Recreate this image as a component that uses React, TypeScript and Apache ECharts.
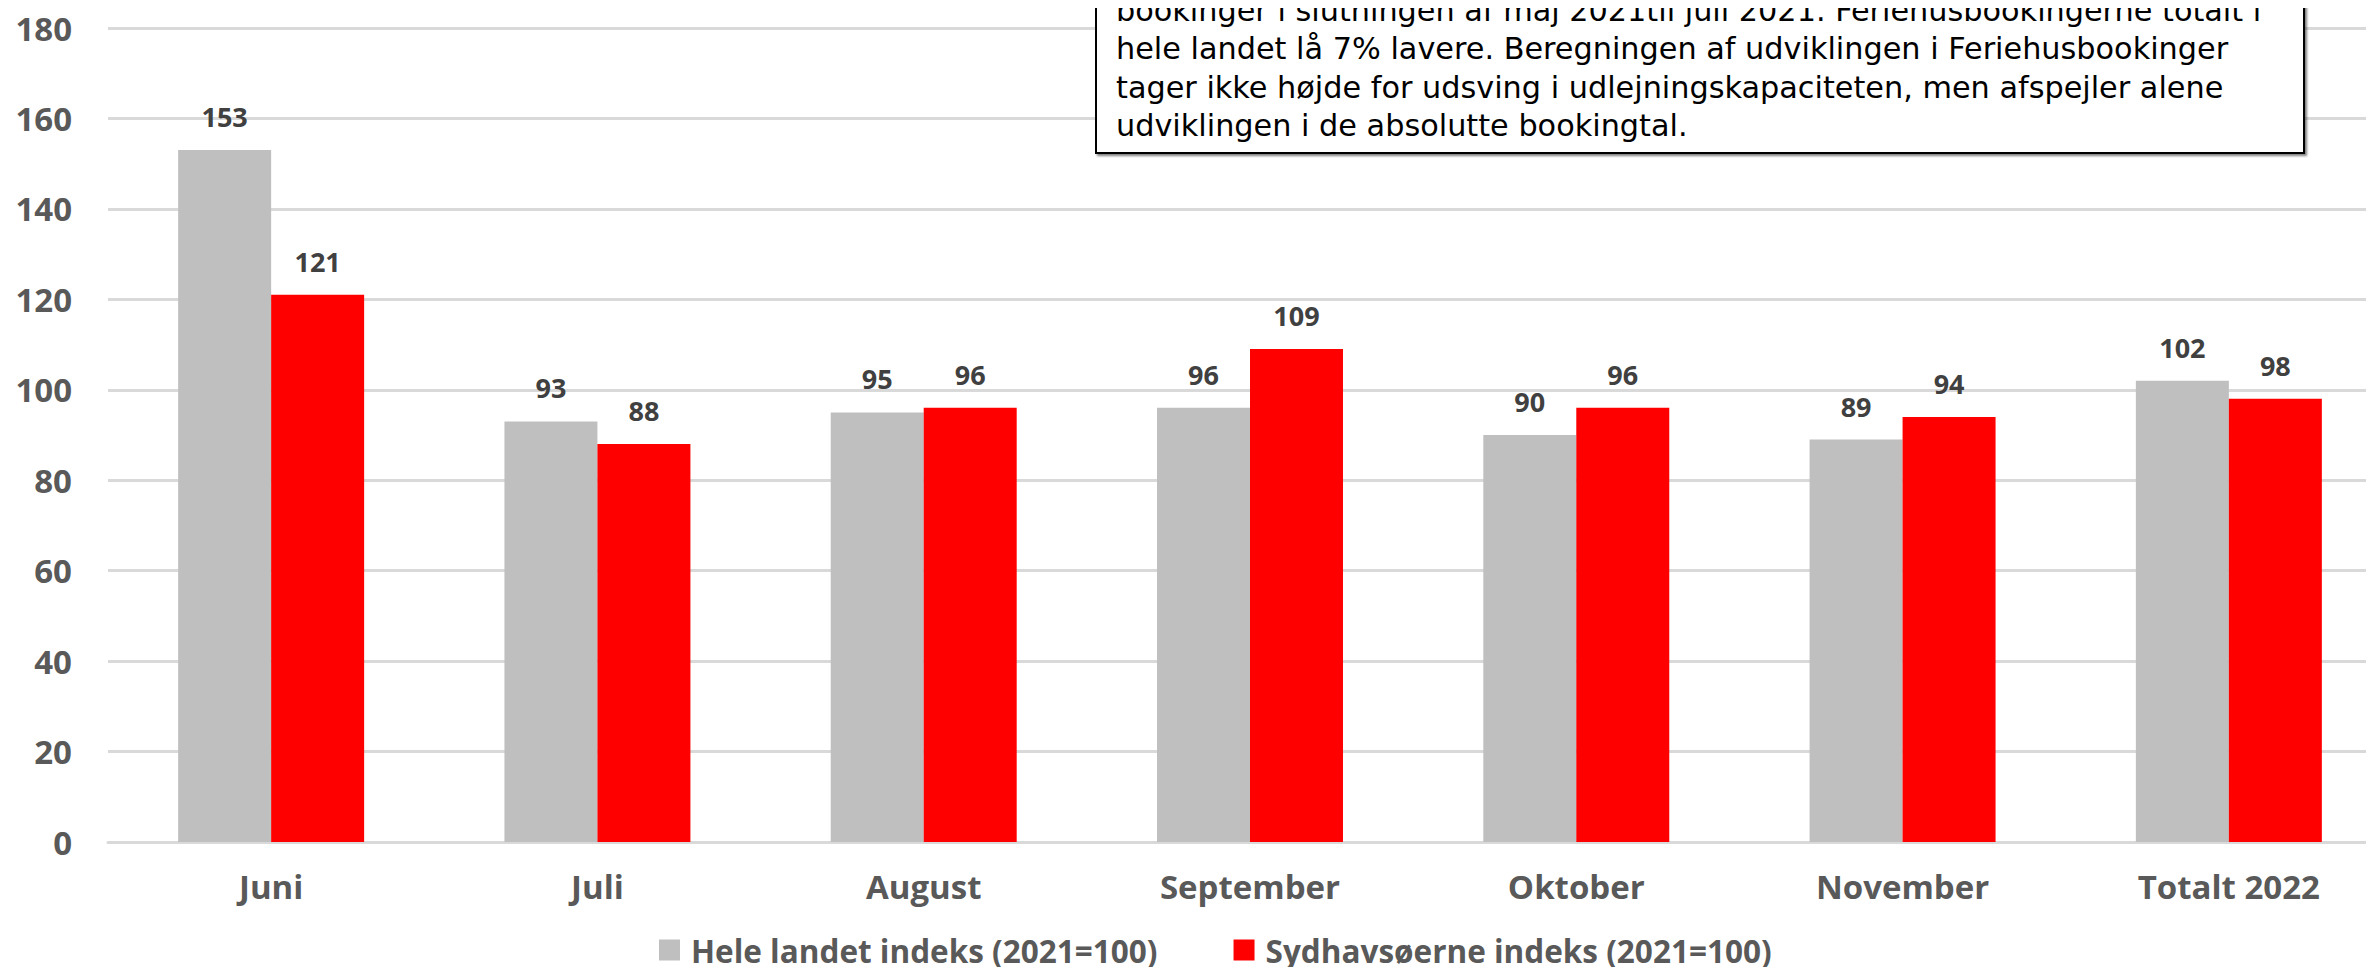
import React, { useEffect, useRef } from "react";
import * as echarts from "echarts";

const categories = ["Juni", "Juli", "August", "September", "Oktober", "November", "Totalt 2022"];
const heleLandet = [153, 93, 95, 96, 90, 89, 102];
const sydhavsoerne = [121, 88, 96, 109, 96, 94, 98];
const seriesNames = ["Hele landet indeks (2021=100)", "Sydhavsøerne indeks (2021=100)"];
const noteLines = [
  "bookinger i slutningen af maj 2021til juli 2021. Feriehusbookingerne totalt i",
  "hele landet lå 7% lavere. Beregningen af udviklingen i Feriehusbookinger",
  "tager ikke højde for udsving i udlejningskapaciteten, men afspejler alene",
  "udviklingen i de absolutte bookingtal.",
];

const AXIS_FONT = "'Open Sans', sans-serif";

export default function App() {
  const ref = useRef<HTMLDivElement>(null);
  useEffect(() => {
    const chart = echarts.init(ref.current!, undefined, { renderer: "svg" });
    const labelStyle = {
      show: true,
      position: "top" as const,
      distance: 20,
      fontFamily: "'Open Sans', sans-serif",
      fontWeight: "bold" as const,
      fontSize: 27,
      color: "#404040",
    };
    chart.setOption({
      animation: false,
      backgroundColor: "#ffffff",
      grid: { left: 108, right: 18, top: 28, bottom: 133, containLabel: false },
      legend: {
        left: 654,
        top: 929,
        itemWidth: 21,
        itemHeight: 21,
        itemGap: 76,
        icon: "rect",
        textStyle: {
          fontFamily: AXIS_FONT,
          fontWeight: "bold",
          fontSize: 31.5,
          color: "#595959",
          padding: [0, 0, 0, 6],
        },
        data: seriesNames,
      },
      xAxis: {
        type: "category",
        data: categories,
        axisLine: { lineStyle: { color: "#D9D9D9", width: 3 } },
        axisTick: { show: false },
        axisLabel: {
          margin: 28,
          fontFamily: AXIS_FONT,
          fontWeight: "bold",
          fontSize: 33,
          color: "#595959",
        },
      },
      yAxis: {
        type: "value",
        min: 0,
        max: 180,
        interval: 20,
        axisLine: { show: false },
        axisTick: { show: false },
        splitLine: { lineStyle: { color: "#D9D9D9", width: 3 } },
        axisLabel: {
          margin: 36,
          fontFamily: AXIS_FONT,
          fontWeight: "bold",
          fontSize: 33,
          color: "#595959",
        },
      },
      series: [
        {
          name: seriesNames[0],
          type: "bar",
          data: heleLandet,
          barGap: "0%",
          barCategoryGap: "43%",
          itemStyle: { color: "#BFBFBF" },
          label: labelStyle,
        },
        {
          name: seriesNames[1],
          type: "bar",
          data: sydhavsoerne,
          itemStyle: { color: "#FF0000" },
          label: labelStyle,
        },
      ],
      graphic: [
        {
          type: "rect",
          z: 100,
          shape: { x: 1096, y: -200, width: 1208, height: 353 },
          style: { fill: "#ffffff", stroke: "#000000", lineWidth: 2, shadowColor: "rgba(0,0,0,0.5)", shadowOffsetX: 2, shadowOffsetY: 2, shadowBlur: 2 },
        },
        ...noteLines.map((t, i) => ({
          type: "text",
          z: 101,
          left: 1116,
          top: -5 + i * 38.5,
          style: {
            text: t,
            fontFamily: "'DejaVu Sans', sans-serif",
            fontSize: 30.3,
            fill: "#000000",
          },
        })),
      ],
    });
    return () => chart.dispose();
  }, []);
  return (
    <div style={{ width: 2374, height: 975, margin: -8, overflow: "hidden", position: "relative" }}>
      <div ref={ref} style={{ width: 2410, height: 975 }} />
    </div>
  );
}
